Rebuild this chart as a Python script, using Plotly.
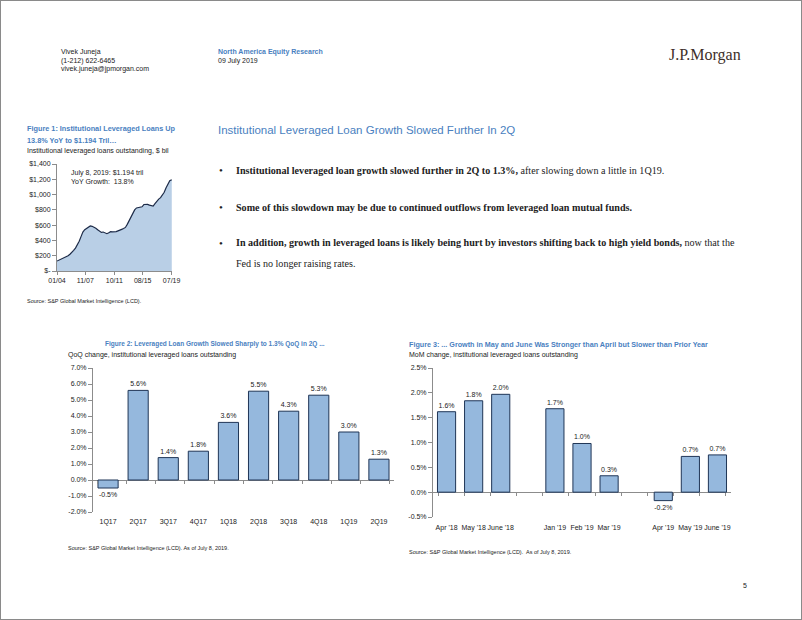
import plotly.graph_objects as go

W, H = 802, 620

# ---------------- data ----------------
fig1_dates = ["2004-01-01","2004-04-01","2004-07-01","2004-10-01","2005-01-01","2005-04-01","2005-07-01","2005-10-01",
              "2006-01-01","2006-04-01","2006-07-01","2006-10-01","2007-01-01","2007-04-01","2007-07-01","2007-10-01",
              "2008-01-01","2008-04-01","2008-07-01","2008-10-01","2009-01-01","2009-04-01","2009-07-01","2009-10-01",
              "2010-01-01","2010-04-01","2010-07-01","2010-10-01","2011-01-01","2011-04-01","2011-07-01","2011-10-01",
              "2012-01-01","2012-04-01","2012-07-01","2012-10-01","2013-01-01","2013-04-01","2013-07-01","2013-10-01",
              "2014-01-01","2014-04-01","2014-07-01","2014-10-01","2015-01-01","2015-04-01","2015-07-01","2015-10-01",
              "2016-01-01","2016-04-01","2016-07-01","2016-10-01","2017-01-01","2017-04-01","2017-07-01","2017-10-01",
              "2018-01-01","2018-04-01","2018-07-01","2018-10-01","2019-01-01","2019-04-01","2019-07-08"]
fig1_values = [130, 140, 150, 162, 175, 188, 200, 220,
               240, 270, 300, 340, 390, 450, 510, 540,
               555, 575, 590, 585, 575, 560, 540, 520,
               505, 510, 495, 488, 500, 515, 512, 510,
               515, 525, 530, 545, 555, 570, 610, 660,
               710, 760, 800, 825, 830, 828, 840, 870,
               875, 872, 862, 858, 850, 880, 915, 940,
               960, 990, 1030, 1090, 1140, 1180, 1194]
fig1_tickdates = ["2004-01-01", "2007-11-01", "2011-10-01", "2015-08-01", "2019-07-01"]
fig1_ticktext = ["01/04", "11/07", "10/11", "08/15", "07/19"]
fig1_yvals = [0, 200, 400, 600, 800, 1000, 1200, 1400]
fig1_ytext = ["$-", "$200", "$400", "$600", "$800", "$1,000", "$1,200", "$1,400"]

fig2_cats = ["1Q17", "2Q17", "3Q17", "4Q17", "1Q18", "2Q18", "3Q18", "4Q18", "1Q19", "2Q19"]
fig2_vals = [-0.5, 5.6, 1.4, 1.8, 3.6, 5.55, 4.3, 5.3, 3.0, 1.3]
fig2_labels = ["-0.5%", "5.6%", "1.4%", "1.8%", "3.6%", "5.5%", "4.3%", "5.3%", "3.0%", "1.3%"]
fig2_yvals = [-2, -1, 0, 1, 2, 3, 4, 5, 6, 7]
fig2_ytext = ["-2.0%", "-1.0%", "0.0%", "1.0%", "2.0%", "3.0%", "4.0%", "5.0%", "6.0%", "7.0%"]

fig3_cats = ["Apr '18", "May '18", "June '18", " ", "Jan '19", "Feb '19", "Mar '19", "  ", "Apr '19", "May '19", "June '19"]
fig3_vals = [1.62, 1.84, 1.97, None, 1.68, 0.98, 0.33, None, -0.17, 0.72, 0.75]
fig3_labels = ["1.6%", "1.8%", "2.0%", "", "1.7%", "1.0%", "0.3%", "", "-0.2%", "0.7%", "0.7%"]
fig3_yvals = [-0.5, 0, 0.5, 1.0, 1.5, 2.0, 2.5]
fig3_ytext = ["-0.5%", "0.0%", "0.5%", "1.0%", "1.5%", "2.0%", "2.5%"]

# ---------------- styles ----------------
SANS = "Liberation Sans, Arial, sans-serif"
SERIF = "Liberation Serif, Times New Roman, serif"
BLUE = "#4a7fbf"
TXT = "#222222"
AX = "#8c8c8c"
BAR_FILL = "#95b8dd"
BAR_LINE = "#1f3556"

def px_x(x):
    return x / W

def px_y(y):
    return 1 - y / H

fig = go.Figure()

# Figure 1: area
fig.add_trace(go.Scatter(
    x=fig1_dates, y=fig1_values, mode="lines", fill="tozeroy",
    line=dict(color="#1d2b48", width=1.2), fillcolor="#b9cfe6",
    xaxis="x", yaxis="y", hoverinfo="skip", showlegend=False))

# Figure 2: bars
fig.add_trace(go.Bar(
    x=fig2_cats, y=fig2_vals, text=fig2_labels, textposition="outside",
    textfont=dict(family=SANS, size=7, color=TXT), cliponaxis=False,
    marker=dict(color=BAR_FILL, line=dict(color=BAR_LINE, width=1)),
    xaxis="x2", yaxis="y2", hoverinfo="skip", showlegend=False))

# Figure 3: bars
fig.add_trace(go.Bar(
    x=fig3_cats, y=fig3_vals, text=fig3_labels, textposition="outside",
    textfont=dict(family=SANS, size=7, color=TXT), cliponaxis=False,
    marker=dict(color=BAR_FILL, line=dict(color=BAR_LINE, width=1)),
    xaxis="x3", yaxis="y3", hoverinfo="skip", showlegend=False))

# helper invisible traces for the zero-line category tick axes
fig.add_trace(go.Scatter(x=fig2_cats, y=[0] * len(fig2_cats), mode="markers",
                         marker=dict(opacity=0), xaxis="x4", yaxis="y2",
                         hoverinfo="skip", showlegend=False))
fig.add_trace(go.Scatter(x=fig3_cats, y=[0] * len(fig3_cats), mode="markers",
                         marker=dict(opacity=0), xaxis="x5", yaxis="y3",
                         hoverinfo="skip", showlegend=False))

tickfont = dict(family=SANS, size=7, color=TXT)

# domains (pixel based)
d1x = [px_x(57), px_x(172)]
d1y = [px_y(271), px_y(164)]
d2x = [px_x(93), px_x(394)]
d2y = [px_y(512), px_y(368)]
d3x = [px_x(433), px_x(731)]
d3y = [px_y(517), px_y(368)]

r2 = [-2, 7]
r3 = [-0.5, 2.5]
zero2 = d2y[0] + (0 - r2[0]) / (r2[1] - r2[0]) * (d2y[1] - d2y[0])
zero3 = d3y[0] + (0 - r3[0]) / (r3[1] - r3[0]) * (d3y[1] - d3y[0])

fig.update_layout(
    template="none",
    width=W, height=H, margin=dict(l=0, r=0, t=0, b=0, autoexpand=False),
    paper_bgcolor="white", plot_bgcolor="rgba(0,0,0,0)",
    bargap=0.33, showlegend=False,
    xaxis=dict(domain=d1x, anchor="y", type="date", automargin=False,
               range=["2004-01-01", "2019-07-20"],
               tickvals=fig1_tickdates, ticktext=fig1_ticktext,
               tickfont=tickfont, showgrid=False, zeroline=False,
               showline=True, linecolor=AX, linewidth=1,
               ticks="outside", ticklen=3, tickcolor=AX, tickangle=0),
    yaxis=dict(domain=d1y, anchor="x", range=[0, 1400], automargin=False,
               tickvals=fig1_yvals, ticktext=fig1_ytext,
               tickfont=tickfont, showgrid=False, zeroline=False,
               showline=True, linecolor=AX, linewidth=1,
               ticks="outside", ticklen=4, tickcolor=AX),
    xaxis2=dict(domain=d2x, anchor="y2", type="category", automargin=False,
                categoryorder="array", categoryarray=fig2_cats,
                tickfont=tickfont, showgrid=False, zeroline=False,
                showline=False, ticks="", ticklabelstandoff=4, tickangle=0),
    yaxis2=dict(domain=d2y, anchor="x2", range=r2, automargin=False,
                tickvals=fig2_yvals, ticktext=fig2_ytext,
                tickfont=tickfont, showgrid=False,
                zeroline=True, zerolinecolor=AX, zerolinewidth=1,
                showline=True, linecolor=AX, linewidth=1,
                ticks="outside", ticklen=4, tickcolor=AX),
    xaxis4=dict(domain=d2x, overlaying="x2", anchor="free", position=zero2,
                type="category", categoryorder="array", categoryarray=fig2_cats,
                automargin=False,
                showticklabels=False, showgrid=False, zeroline=False, showline=False,
                ticks="outside", tickson="boundaries", ticklen=3, tickcolor=AX),
    xaxis3=dict(domain=d3x, anchor="y3", type="category", automargin=False,
                categoryorder="array", categoryarray=fig3_cats,
                tickfont=tickfont, showgrid=False, zeroline=False,
                showline=False, ticks="", ticklabelstandoff=5, tickangle=0),
    yaxis3=dict(domain=d3y, anchor="x3", range=r3, automargin=False,
                tickvals=fig3_yvals, ticktext=fig3_ytext,
                tickfont=tickfont, showgrid=False,
                zeroline=True, zerolinecolor=AX, zerolinewidth=1,
                showline=True, linecolor=AX, linewidth=1,
                ticks="outside", ticklen=4, tickcolor=AX),
    xaxis5=dict(domain=d3x, overlaying="x3", anchor="free", position=zero3,
                type="category", categoryorder="array", categoryarray=fig3_cats,
                automargin=False,
                showticklabels=False, showgrid=False, zeroline=False, showline=False,
                ticks="outside", tickson="boundaries", ticklen=3, tickcolor=AX),
)

ann = []

def text(x, y, s, size=7, color=TXT, family=SANS, xanchor="left", bold=False):
    if bold:
        s = "<b>" + s + "</b>"
    ann.append(dict(x=px_x(x), y=px_y(y), xref="paper", yref="paper",
                    text=s, showarrow=False, xanchor=xanchor, yanchor="middle",
                    font=dict(family=family, size=size, color=color), align="left"))

# header
text(59, 52, "Vivek Juneja")
text(59, 61, "(1-212) 622-6465")
text(59, 69, "vivek.juneja@jpmorgan.com")
text(216, 52, "North America Equity Research", color=BLUE, bold=True)
text(216, 61, "09 July 2019")
text(667, 55, "J.P.Morgan", size=16, color="#3d2f28", family=SERIF)

# figure 1 text
text(25, 129, "Figure 1: Institutional Leveraged Loans Up", size=7.3, color=BLUE, bold=True)
text(25, 140, "13.8% YoY to $1.194 Tril…", size=7.3, color=BLUE, bold=True)
text(25, 151, "Institutional leveraged loans outstanding, $ bil")
text(69, 173, "July 8, 2019: $1.194 tril")
text(69, 182, "YoY Growth:  13.8%")
text(25, 301, "Source: S&P Global Market Intelligence (LCD).", size=5.5)

# main heading and bullets
text(216, 130, "Institutional Leveraged Loan Growth Slowed Further In 2Q", size=11.5, color=BLUE)
for yy in [170, 207, 243]:
    text(217, yy, "•", size=11, family=SERIF)
text(234, 170, "<b>Institutional leveraged loan growth slowed further in 2Q to 1.3%,</b> after slowing down a little in 1Q19.",
     size=10.1, family=SERIF)
text(234, 207, "<b>Some of this slowdown may be due to continued outflows from leveraged loan mutual funds.</b>",
     size=10.1, family=SERIF)
text(234, 243, "<b>In addition, growth in leveraged loans is likely being hurt by investors shifting back to high yield bonds,</b> now that the",
     size=10.1, family=SERIF)
text(234, 263, "Fed is no longer raising rates.", size=10.1, family=SERIF)

# figure 2 text
text(103, 344, "Figure 2: Leveraged Loan Growth Slowed Sharply to 1.3% QoQ in 2Q ...", size=6.5, color=BLUE, bold=True)
text(66, 355, "QoQ change, institutional leveraged loans outstanding")
text(66, 548, "Source: S&P Global Market Intelligence (LCD). As of July 8, 2019.", size=5.5)

# figure 3 text
text(407, 344, "Figure 3: ... Growth in May and June Was Stronger than April but Slower than Prior Year", size=7.2, color=BLUE, bold=True)
text(407, 355, "MoM change, institutional leveraged loans outstanding")
text(407, 552, "Source: S&P Global Market Intelligence (LCD).  As of July 8, 2019.", size=5.5)

# page number
text(741, 585, "5", size=7)

fig.update_layout(annotations=ann)

# page border
fig.add_shape(type="rect", xref="paper", yref="paper", x0=0, y0=0, x1=1, y1=1,
              line=dict(color="#8a8a8a", width=2), fillcolor="rgba(0,0,0,0)")

fig.write_html("out.html",
               config={"displayModeBar": False},
               post_script="document.body.style.margin='0';document.body.style.overflow='hidden';")
